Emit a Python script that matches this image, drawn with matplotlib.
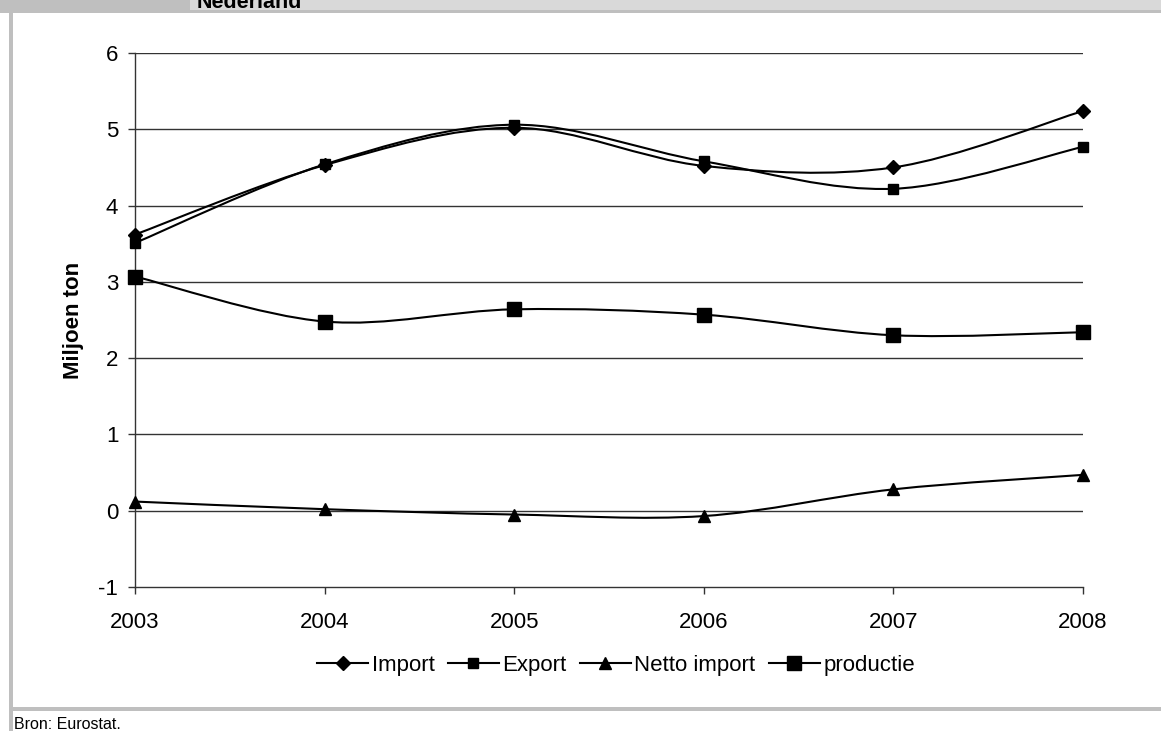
import numpy as np
import matplotlib
matplotlib.use('Agg')
import matplotlib.pyplot as plt
from matplotlib.path import Path
from matplotlib.patches import PathPatch, Rectangle
from matplotlib.lines import Line2D

years = [2003, 2004, 2005, 2006, 2007, 2008]
import_vals = [3.62, 4.53, 5.02, 4.52, 4.50, 5.24]
export_vals = [3.51, 4.54, 5.06, 4.58, 4.22, 4.77]
netto_vals = [0.12, 0.02, -0.05, -0.07, 0.28, 0.47]
productie_vals = [3.07, 2.48, 2.64, 2.57, 2.30, 2.34]
series_names = ['Import', 'Export', 'Netto import', 'productie']

plt.rcParams['font.family'] = ['Liberation Sans', 'DejaVu Sans']


def smooth_path(xs, ys):
    # Excel style smoothed line: cubic bezier with catmull-rom control points
    pts = np.column_stack([xs, ys]).astype(float)
    n = len(pts)
    verts = [pts[0]]
    codes = [Path.MOVETO]
    for i in range(n - 1):
        p0 = pts[i - 1] if i > 0 else pts[i]
        p1 = pts[i]
        p2 = pts[i + 1]
        p3 = pts[i + 2] if i + 2 < n else pts[i + 1]
        c1 = p1 + (p2 - p0) / 6.0
        c2 = p2 - (p3 - p1) / 6.0
        verts += [c1, c2, p2]
        codes += [Path.CURVE4] * 3
    return Path(verts, codes)


fig = plt.figure(figsize=(11.61, 7.31), dpi=100)
W, H = 1161, 731

# frame decorations (pixel coords from top-left)
def px_rect(x0, y0, x1, y1, color):
    fig.patches.append(Rectangle((x0 / W, 1 - y1 / H), (x1 - x0) / W, (y1 - y0) / H,
                                 transform=fig.transFigure, color=color, lw=0, zorder=0))

px_rect(190, 0, W, 10, '#d9d9d9')
px_rect(0, 0, 190, 13, '#bfbfbf')
px_rect(190, 10, W, 13, '#bfbfbf')
px_rect(9, 13, 13, H, '#bfbfbf')
px_rect(13, 707, W, 711, '#bfbfbf')

# title is cut off by the top edge, as in the original
fig.text(197 / W, 1 - 8 / H, 'Nederland', fontsize=15.5, fontweight='bold', va='baseline', ha='left')
fig.text(14 / W, 1 - 729 / H, 'Bron: Eurostat.', fontsize=11.5, va='baseline', ha='left')

ax = fig.add_axes([135 / W, 1 - 587 / H, (1083 - 135) / W, (587 - 53) / H])
ax.set_xlim(2003, 2008)
ax.set_ylim(-1, 6)
ax.set_xticks(years)
ax.set_yticks(range(-1, 7))
ax.set_yticklabels([str(v) for v in range(-1, 7)])
for v in range(0, 7):
    ax.axhline(v, color='#333333', lw=1.0, zorder=1)
for s in ['top', 'right']:
    ax.spines[s].set_visible(False)
for s in ['left', 'bottom']:
    ax.spines[s].set_color('#333333')
    ax.spines[s].set_linewidth(1.0)
ax.tick_params(axis='both', labelsize=16, length=5, width=1.0, color='#333333', direction='out')
ax.tick_params(axis='y', pad=7)
ax.tick_params(axis='x', pad=13)
ax.set_ylabel('Miljoen ton', fontsize=16, fontweight='bold')
ax.yaxis.set_label_coords((84 - 135) / (1083 - 135), 0.5)

markers = ['D', 's', '^', 's']
sizes = [7, 7.5, 8.5, 10.5]
all_vals = [import_vals, export_vals, netto_vals, productie_vals]
handles = []
for vals, m, ms, name in zip(all_vals, markers, sizes, series_names):
    ax.add_patch(PathPatch(smooth_path(years, vals), fill=False, edgecolor='black', lw=1.5, zorder=3))
    ax.plot(years, vals, linestyle='none', marker=m, ms=ms, color='black', zorder=4, clip_on=False)
    handles.append(Line2D([], [], color='black', lw=1.5, marker=m, ms=ms))

fig.legend(handles, series_names, loc='center', bbox_to_anchor=(616 / W, 1 - 665 / H), ncol=4,
           frameon=False, fontsize=16, handlelength=2.3, handletextpad=0.15, columnspacing=0.6,
           borderpad=0)

fig.savefig('out.png', dpi=100)
